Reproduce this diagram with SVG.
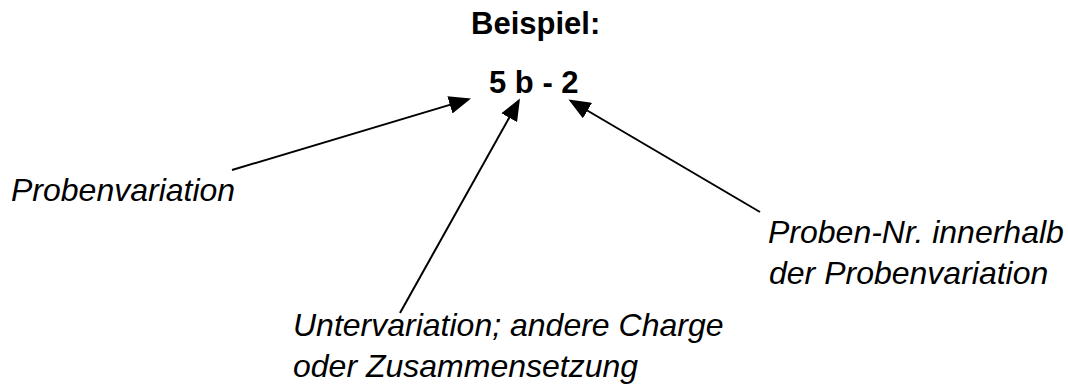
<svg xmlns="http://www.w3.org/2000/svg" width="1068" height="392" viewBox="0 0 1068 392">
  <style>
    .title { font-family: "Liberation Sans", Arial, sans-serif; font-weight: bold; font-size: 31px; fill: #000; }
    .label { font-family: "Liberation Sans", Arial, sans-serif; font-style: italic; font-size: 32px; fill: #000; }
    .conn { stroke: #000; stroke-width: 2; fill: none; }
  </style>
  <defs>
    <marker id="head" markerUnits="userSpaceOnUse" markerWidth="22" markerHeight="18" refX="19" refY="9" orient="auto" viewBox="0 0 22 18">
      <path d="M0,0 L22,9 L0,18 z" fill="#000"/>
    </marker>
  </defs>
  <rect width="1068" height="392" fill="#fff"/>

  <g id="heading">
    <text class="title" x="471" y="34">Beispiel:</text>
  </g>

  <g id="code">
    <text class="title" x="489" y="93">5 b - 2</text>
  </g>

  <g id="probenvariation">
    <text class="label" x="11" y="201">Probenvariation</text>
  </g>

  <g id="untervariation">
    <text class="label" x="293" y="336">Untervariation; andere Charge</text>
    <text class="label" x="293" y="377">oder Zusammensetzung</text>
  </g>

  <g id="probennummer">
    <text class="label" x="768" y="243">Proben-Nr. innerhalb</text>
    <text class="label" x="769" y="284">der Probenvariation</text>
  </g>

  <g id="connectors">
    <line class="conn" x1="232" y1="170" x2="468.1" y2="99.4" marker-end="url(#head)"/>
    <line class="conn" x1="400" y1="313" x2="518.5" y2="101.1" marker-end="url(#head)"/>
    <line class="conn" x1="760" y1="212" x2="571.1" y2="101" marker-end="url(#head)"/>
  </g>
</svg>
